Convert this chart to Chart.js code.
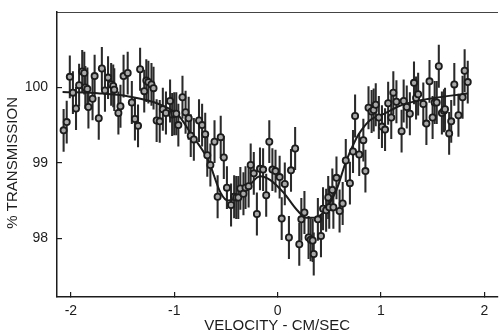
<!DOCTYPE html>
<html>
<head>
<meta charset="utf-8">
<script src="https://cdn.jsdelivr.net/npm/chart.js@4.4.1/dist/chart.umd.min.js"></script>
<style>
  html, body { margin: 0; padding: 0; background: #fff; }
  #wrap { width: 503px; height: 335px; }
</style>
</head>
<body>
<div id="wrap"><canvas id="spectrum"></canvas></div>
<script>
// Measured points (velocity in cm/sec, % transmission)
const velocity = [
    -2.07, -2.04, -2.01, -1.98, -1.95, -1.92, -1.89, -1.87, -1.86, -1.84,
    -1.83, -1.79, -1.77, -1.73, -1.70, -1.67, -1.64, -1.61, -1.59, -1.58,
    -1.54, -1.52, -1.49, -1.45, -1.41, -1.38, -1.35, -1.33, -1.29, -1.27,
    -1.25, -1.22, -1.20, -1.17, -1.14, -1.11, -1.08, -1.04, -1.02, -1.00,
    -0.98, -0.96, -0.92, -0.89, -0.86, -0.84, -0.81, -0.76, -0.73, -0.70,
    -0.68, -0.65, -0.61, -0.58, -0.55, -0.52, -0.49, -0.45, -0.42, -0.40,
    -0.38, -0.36, -0.33, -0.31, -0.28, -0.26, -0.23, -0.20, -0.17, -0.14,
    -0.11, -0.08, -0.05, -0.02, 0.02, 0.04, 0.07, 0.11, 0.13, 0.17,
    0.21, 0.23, 0.26, 0.30, 0.32, 0.34, 0.35, 0.39, 0.42, 0.44,
    0.47, 0.49, 0.50, 0.53, 0.54, 0.57, 0.60, 0.63, 0.66, 0.70,
    0.73, 0.75, 0.79, 0.83, 0.85, 0.88, 0.91, 0.93, 0.95, 0.98,
    1.01, 1.04, 1.07, 1.10, 1.12, 1.15, 1.20, 1.22, 1.25, 1.28,
    1.32, 1.34, 1.36, 1.41, 1.44, 1.47, 1.50, 1.52, 1.54, 1.56,
    1.59, 1.61, 1.62, 1.66, 1.68, 1.71, 1.75, 1.79, 1.81, 1.84
];
const transmission = [
    99.43, 99.54, 100.14, 99.93, 99.72, 100.03, 100.21, 100.19, 100.00, 99.98,
    99.74, 99.85, 100.15, 99.59, 100.25, 99.96, 100.13, 100.04, 100.02, 99.97,
    99.66, 99.75, 100.15, 100.19, 99.80, 99.58, 99.49, 100.24, 99.95, 100.09,
    100.07, 100.04, 99.99, 99.56, 99.55, 99.71, 99.66, 99.82, 99.64, 99.65,
    99.65, 99.50, 99.87, 99.67, 99.59, 99.36, 99.31, 99.56, 99.50, 99.38,
    99.10, 98.97, 99.28, 98.55, 99.34, 99.07, 98.67, 98.44, 98.55, 98.54,
    98.54, 98.66, 98.59, 98.67, 98.69, 98.97, 98.86, 98.32, 98.92, 98.91,
    98.57, 99.28, 98.91, 98.89, 98.81, 98.26, 98.72, 98.01, 98.90, 99.19,
    97.92, 98.25, 98.34, 98.01, 97.98, 97.97, 97.79, 98.25, 98.03, 98.39,
    98.37, 98.54, 98.41, 98.64, 98.41, 98.80, 98.36, 98.46, 99.03, 98.73,
    99.15, 99.62, 99.11, 99.30, 98.89, 99.73, 99.68, 99.70, 99.77, 99.60,
    99.48, 99.44, 99.79, 99.60, 99.93, 99.81, 99.42, 99.82, 99.74, 99.65,
    100.06, 99.86, 99.91, 99.78, 99.52, 100.08, 99.60, 99.80, 99.80, 100.28,
    99.66, 99.69, 99.71, 99.39, 99.55, 100.04, 99.63, 99.87, 100.22, 100.07
];
const errHalf = 0.28;

// Fitted curve
const fitVelocity = [
    -2.08, -1.72, -1.44, -1.15, -0.96, -0.84, -0.67, -0.55, -0.48, -0.39,
    -0.29, -0.17, -0.07, 0.06, 0.19, 0.28, 0.35, 0.44, 0.57, 0.66,
    0.76, 0.81, 0.90, 1.03, 1.19, 1.35, 1.47, 1.84
];
const fitTransmission = [
    99.94, 99.92, 99.88, 99.78, 99.63, 99.39, 99.03, 98.60, 98.50, 98.54,
    98.67, 98.82, 98.77, 98.60, 98.37, 98.27, 98.27, 98.34, 98.64, 99.01,
    99.32, 99.43, 99.57, 99.65, 99.76, 99.82, 99.85, 99.92
];

// Axis setup
const xTicks = [-2, -1, 0, 1, 2];
const yTicks = [98, 99, 100];
const xRange = [-2.134, 2.125];
const yRange = [97.22, 101.0];

const ink = '#1c1c1c';
const tickFont = { family: "'Liberation Sans', Arial, sans-serif", size: 14 };
const titleFont = { family: "'Liberation Sans', Arial, sans-serif", size: 15 };

const points = velocity.map((v, i) => ({ x: v, y: transmission[i] }));
const errorBars = velocity.map((v, i) => ({ x: v, y: [transmission[i] - errHalf, transmission[i] + errHalf] }));
const fitLine = fitVelocity.map((v, i) => ({ x: v, y: fitTransmission[i] }));

// no edge padding for end labels, the plot box is fixed
const noEdgePad = s => {
    s.paddingTop = 0;
    s.paddingBottom = 0;
    s.paddingLeft = 0;
    s.paddingRight = 0;
};

new Chart(document.getElementById('spectrum').getContext('2d'), {
    type: 'scatter',
    data: {
        datasets: [
            {
                type: 'scatter',
                data: points,
                pointRadius: 3.1,
                pointBorderWidth: 1.8,
                pointBorderColor: ink,
                pointBackgroundColor: '#a8a8a8'
            },
            {
                type: 'line',
                data: fitLine,
                borderColor: ink,
                borderWidth: 2,
                pointRadius: 0,
                cubicInterpolationMode: 'monotone',
                fill: false
            },
            {
                type: 'bar',
                data: errorBars,
                backgroundColor: '#2a2a2a',
                borderWidth: 0,
                barThickness: 1.4,
                grouped: false
            }
        ]
    },
    options: {
        responsive: true,
        maintainAspectRatio: false,
        animation: false,
        layout: { padding: { top: 12, right: 0, left: 0, bottom: 0 } },
        plugins: {
            legend: { display: false },
            tooltip: { enabled: false }
        },
        scales: {
            x: {
                type: 'linear',
                min: xRange[0],
                max: xRange[1],
                offset: false,
                afterBuildTicks: s => { s.ticks = xTicks.map(v => ({ value: v })); },
                afterFit: s => { s.height = 38; noEdgePad(s); },
                ticks: {
                    color: ink,
                    font: tickFont,
                    padding: 11,
                    maxRotation: 0,
                    autoSkip: false,
                    callback: v => (v < 0 ? '-' + Math.abs(v) : String(v))
                },
                grid: { offset: false, drawOnChartArea: false, drawTicks: true, tickLength: -5, color: ink, lineWidth: 1.2 },
                border: { color: ink, width: 1.5 },
                title: {
                    display: true,
                    text: 'VELOCITY - CM/SEC',
                    color: ink,
                    font: titleFont,
                    padding: { top: 0, bottom: 0 }
                }
            },
            xTop: {
                type: 'linear',
                position: 'top',
                min: xRange[0],
                max: xRange[1],
                afterFit: s => { s.height = 0; noEdgePad(s); },
                ticks: { display: false },
                grid: { display: false },
                border: { display: true, color: '#444', width: 1 }
            },
            y: {
                type: 'linear',
                min: yRange[0],
                max: yRange[1],
                afterBuildTicks: s => { s.ticks = yTicks.map(v => ({ value: v })); },
                afterFit: s => { s.width = 57; noEdgePad(s); },
                ticks: {
                    color: ink,
                    font: tickFont,
                    padding: 14
                },
                grid: { offset: false, drawOnChartArea: false, drawTicks: true, tickLength: -5, color: ink, lineWidth: 1.2 },
                border: { color: ink, width: 1.5 },
                title: {
                    display: true,
                    text: '% TRANSMISSION    ',
                    color: ink,
                    font: titleFont,
                    padding: { top: 4, bottom: 0 }
                }
            }
        }
    }
});
</script>
</body>
</html>
